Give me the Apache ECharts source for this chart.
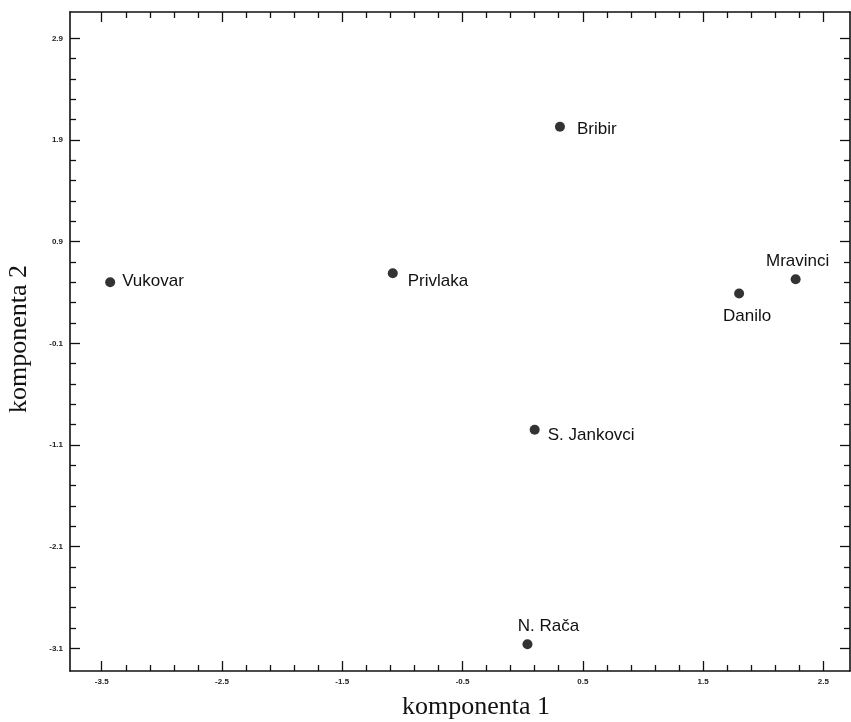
<!DOCTYPE html>
<html>
<head>
<meta charset="utf-8">
<script src="https://cdn.jsdelivr.net/npm/echarts@6/dist/echarts.min.js"></script>
<style>
html,body{margin:0;padding:0;background:#fff;}
#chart{width:851px;height:722px;}
</style>
</head>
<body>
<div id="chart"></div>
<script>
// ---- data ----
const names = ['Vukovar', 'Privlaka', 'Bribir', 'Mravinci', 'Danilo', 'S. Jankovci', 'N. Rača'];
const comp1 = [-3.43, -1.08, 0.31, 2.27, 1.80, 0.10, 0.04];
const comp2 = [0.50, 0.59, 2.03, 0.53, 0.39, -0.95, -3.06];
const xTicks = [-3.5, -2.5, -1.5, -0.5, 0.5, 1.5, 2.5];
const yTicks = [2.9, 1.9, 0.9, -0.1, -1.1, -2.1, -3.1];
const xTitle = 'komponenta 1';
const yTitle = 'komponenta 2';

// ---- layout ----
const xMin = -3.764, xMax = 2.722, yMin = -3.323, yMax = 3.159;
const labelCfg = {
  'Vukovar':     {position: 'right',  distance: 7,  offset: [0, -1]},
  'Privlaka':    {position: 'right',  distance: 10, offset: [0, 8]},
  'Bribir':      {position: 'right',  distance: 12, offset: [0, 3]},
  'Mravinci':    {position: 'top',    distance: 4,  offset: [2, 0]},
  'Danilo':      {position: 'bottom', distance: 9,  offset: [8, 0]},
  'S. Jankovci': {position: 'right',  distance: 8,  offset: [0, 6]},
  'N. Rača':     {position: 'top',    distance: 4,  offset: [21, 0]}
};

function minorOf(major, lo, hi) {
  const out = [];
  for (let i = 0; i < major.length; i++) {
    for (let k = 1; k < 5; k++) {
      const v = +(major[i] + 0.2 * k).toFixed(2);
      if (v > lo && v < hi && major.indexOf(v) < 0 && out.indexOf(v) < 0) out.push(v);
      const w = +(major[i] - 0.2 * k).toFixed(2);
      if (w > lo && w < hi && major.indexOf(w) < 0 && out.indexOf(w) < 0) out.push(w);
    }
  }
  return out;
}
const xMinor = minorOf(xTicks, xMin + 0.1, xMax - 0.1);
const yMinor = minorOf(yTicks, yMin + 0.1, yMax - 0.1);

const lineStyle = {color: '#111', width: 1.6};
function axis(dim, pos, ticks, len, showLine, showLabel) {
  return {
    type: 'value', position: pos, gridIndex: 0,
    min: dim === 'x' ? xMin : yMin, max: dim === 'x' ? xMax : yMax,
    splitLine: {show: false},
    axisLine: {show: showLine, onZero: false, lineStyle: lineStyle},
    axisTick: {show: true, inside: true, length: len, customValues: ticks, lineStyle: {color: '#111', width: 1.3}},
    axisLabel: {show: showLabel, customValues: ticks, margin: 7, fontSize: 8, fontWeight: 'bold',
      color: '#222', fontFamily: 'Liberation Sans', formatter: v => (+v).toFixed(1)}
  };
}

const chart = echarts.init(document.getElementById('chart'), null, {renderer: 'canvas'});
chart.setOption({
  backgroundColor: '#fff',
  animation: false,
  grid: {left: 70, right: 1, top: 12, bottom: 51, containLabel: false},
  xAxis: [
    axis('x', 'bottom', xTicks, 10, true, true),
    axis('x', 'bottom', xMinor, 6, false, false),
    axis('x', 'top', xTicks, 10, true, false),
    axis('x', 'top', xMinor, 6, false, false)
  ],
  yAxis: [
    axis('y', 'left', yTicks, 10, true, true),
    axis('y', 'left', yMinor, 6, false, false),
    axis('y', 'right', yTicks, 10, true, false),
    axis('y', 'right', yMinor, 6, false, false)
  ],
  series: [{
    type: 'scatter', xAxisIndex: 0, yAxisIndex: 0,
    symbol: 'circle', symbolSize: 10,
    itemStyle: {color: '#333', opacity: 1},
    label: {show: true, formatter: '{b}', fontSize: 17, color: '#111', fontFamily: 'Liberation Sans'},
    data: names.map((n, i) => ({name: n, value: [comp1[i], comp2[i]], label: labelCfg[n]}))
  }],
  graphic: [
    {type: 'text', left: 402, top: 694, style: {text: xTitle, font: '26px "Liberation Serif"', fill: '#111'}},
    {type: 'text', rotation: Math.PI / 2, x: 6, y: 413, style: {text: yTitle, font: '26px "Liberation Serif"', fill: '#111'}}
  ]
});
</script>
</body>
</html>
